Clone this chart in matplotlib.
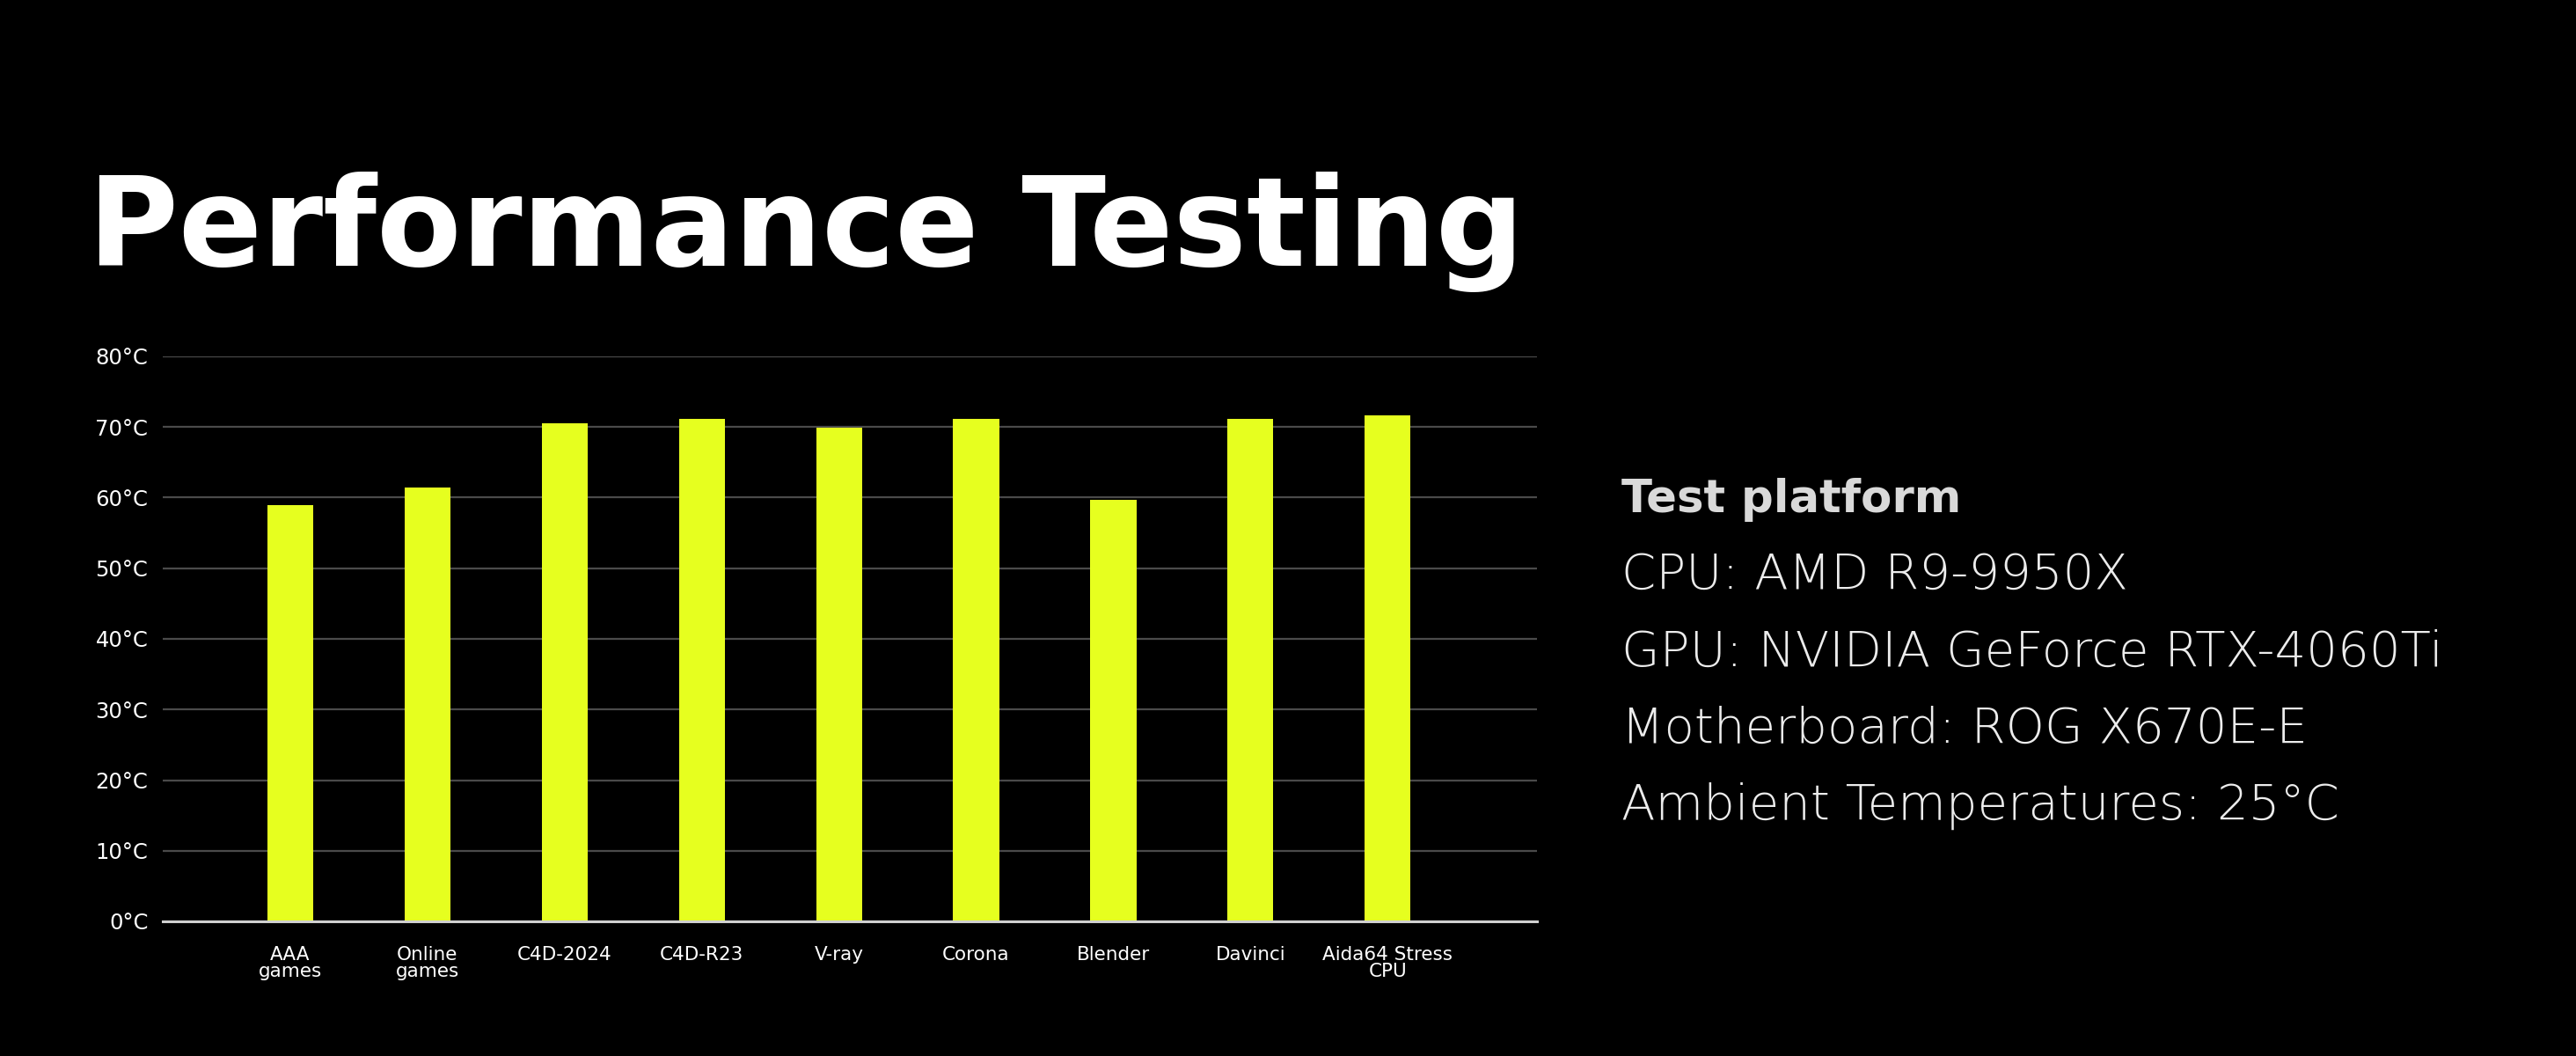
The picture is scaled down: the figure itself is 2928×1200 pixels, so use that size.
import matplotlib
matplotlib.use("Agg")
import matplotlib.pyplot as plt
import numpy as np

# chart data
categories = ["AAA\ngames", "Online\ngames", "C4D-2024", "C4D-R23", "V-ray",
              "Corona", "Blender", "Davinci", "Aida64 Stress\nCPU"]
temps = [59.0, 61.4, 70.5, 71.1, 69.9, 71.1, 59.7, 71.1, 71.6]
y_ticks = [0, 10, 20, 30, 40, 50, 60, 70, 80]
y_labels = [f"{t}°C" for t in y_ticks]

title = "Performance Testing"
platform_head = "Test platform"
platform_lines = ["CPU: AMD R9-9950X",
                  "GPU: NVIDIA GeForce RTX-4060Ti",
                  "Motherboard: ROG X670E-E",
                  "Ambient Temperatures: 25°C"]

BG = "#000000"
BAR = "#E6FF1F"

plt.rcParams["font.family"] = ["DejaVu Sans"]

fig = plt.figure(figsize=(29.28, 12), dpi=100, facecolor=BG)
ax = fig.add_axes([0.0632, 0.1275, 0.5335, 0.535], facecolor=BG)

x = np.arange(len(categories))
ax.bar(x, temps, width=0.335, color=BAR, zorder=3)

ax.set_xlim(-0.93, 9.09)
ax.set_ylim(0, 80)
ax.set_yticks(y_ticks)
ax.set_yticklabels(y_labels)
ax.set_xticks(x)
ax.set_xticklabels(categories, linespacing=0.95)

ax.tick_params(axis="y", length=0, pad=12, labelsize=17.5, labelcolor="white")
ax.tick_params(axis="x", length=0, pad=20, labelsize=15.5, labelcolor="white")
ax.grid(axis="y", color="#4a4a4a", linewidth=1.6, zorder=0)
for side in ["top", "right", "left"]:
    ax.spines[side].set_visible(False)
ax.spines["bottom"].set_color("#d0d0d0")
ax.spines["bottom"].set_linewidth(2.2)
ax.spines["bottom"].set_zorder(4)

# title
fig.text(0.0342, 0.7483, title, color="white", fontsize=101,
         fontweight="bold", va="baseline", ha="left")

# test platform panel
fig.text(0.6295, 0.515, platform_head, color="#d9d9d9", fontsize=37,
         fontweight="bold", va="baseline", ha="left")
line_y = [0.4425, 0.369, 0.2967, 0.224]
for yy, txt in zip(line_y, platform_lines):
    fig.text(0.6295, yy, txt, color="#ececec", fontsize=40.5,
             fontweight=200, va="baseline", ha="left")

fig.savefig("out.png", dpi=100, facecolor=BG)
